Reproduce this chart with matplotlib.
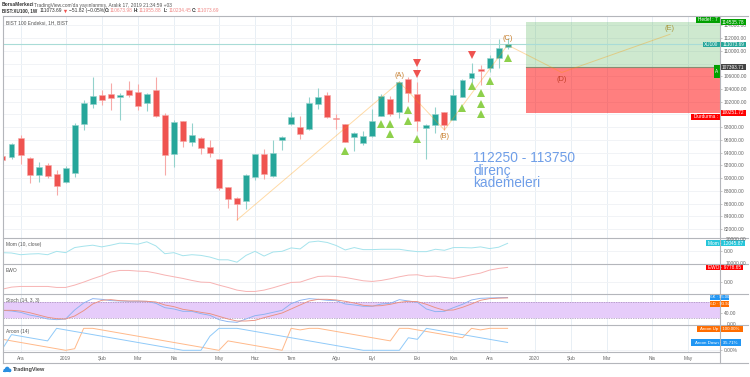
# -*- coding: utf-8 -*-
import matplotlib
matplotlib.use('Agg')
import matplotlib.pyplot as plt
from matplotlib.patches import Rectangle, Circle
import numpy as np

plt.rcParams['font.family'] = ['Liberation Sans', 'DejaVu Sans']

# haftalik mumlar
opens = [93480, 93367, 96306, 93162, 90490, 92062, 90600, 89342, 90757, 98555,
         101698, 103066, 103223, 102752, 103852, 103538, 101761, 103805, 99969, 93791,
         98932, 95630, 96306, 94939, 92958, 88556, 86795, 86403, 90222, 93744,
         90380, 95944, 98555, 98036, 97768, 101698, 103113, 99403, 98460, 96416,
         95567, 96668, 99812, 102484, 100394, 105628, 103223, 97925, 98397, 100346,
         99183, 102751, 105786, 107106, 107263, 108835, 110674]
highs = [93480, 95520, 96778, 93320, 92534, 92329, 91276, 91905, 98617, 102280,
         105848, 103852, 104906, 103333, 105267, 104795, 103333, 105848, 100284, 99136,
         99026, 98617, 96416, 95992, 93005, 88603, 86984, 90647, 93791, 94530,
         95992, 96621, 100441, 99765, 102798, 104119, 103538, 100079, 98507, 97297,
         97407, 100865, 103223, 102909, 105314, 105896, 105110, 98507, 101132, 100394,
         103962, 105534, 108143, 107782, 109354, 111822, 111956]
lows = [92850, 92958, 92219, 89280, 89437, 90018, 87299, 89280, 90222, 97517,
        101022, 101494, 100708, 99136, 102798, 100708, 100551, 99560, 90443, 91794,
        94938, 95096, 93791, 93367, 88179, 85349, 83416, 85145, 89704, 89908,
        90222, 94420, 98303, 96196, 97564, 100818, 99497, 97674, 95630, 94310,
        95159, 96510, 99812, 99765, 99497, 101918, 97407, 92958, 97045, 97564,
        99136, 102704, 104906, 104638, 106729, 107357, 110234]
closes = [92850, 95363, 93587, 90442, 91748, 90333, 88714, 91590, 98350, 101761,
          102909, 102327, 102594, 103066, 103113, 101384, 103223, 99765, 93681, 98774,
          95882, 96778, 94687, 93901, 88446, 86670, 85978, 90537, 93744, 90694,
          93948, 96464, 99560, 96983, 101808, 102704, 99608, 99246, 95630, 97092,
          96621, 98931, 102956, 100126, 105110, 103427, 98979, 98303, 100126, 98350,
          103113, 105377, 106524, 106839, 108835, 110407, 111074]

last_price = 111073.69
target_price = 114535.78
entry_price = 107393.71
stop_price = 100251.72
position_start = 58

# dalga etiketleri
wave_idx = [26, 44, 49, 56, 62, 74]
wave_price = [83415, 105108, 97563, 110925, 106602, 112607]

up_idx = [38, 42, 43, 43, 45, 45, 46, 51, 52, 53, 53, 53, 54, 56]
up_price = [94310, 98510, 98550, 96900, 100700, 99030, 96150, 101020, 104480, 103330,
            101650, 100000, 105310, 108930]
down_idx = [46, 46, 52]
down_price = [108100, 106400, 109350]

# indikatorler
mom = [-2622, -3157, -5833, -4763, -4228, -5833, -551, -2622, 5408, 7549, 9155, 6478, 9155,
       12367, 11832, 10761, 14508, 8084, -4228, -2622, -7439, -5833, -6904, -9581, -13863,
       -13863, -17610, -6904, -480, -7975, -1551, -480, 4873, 3267, 13973, 15579, 13437,
       8620, 1661, 5408, 2196, 2196, 2731, 2731, 2731, 589, -1016, -1016, 2731, 1126, 5408,
       5408, 4873, 6478, 3802, 5943, 12046]
ewo = [-4363, -3059, -2624, -2624, -2624, -2624, -3276, -3276, -1755, 200, 2374, 4329, 6720,
       7806, 7806, 7372, 7154, 6068, 4764, 3677, 2591, 1287, 200, -17, -1755, -3276, -5015,
       -5884, -5884, -5015, -3493, -1755, -17, 200, 2156, 3895, 4112, 3895, 3243, 2156, 1070,
       635, 1287, 2374, 3677, 4764, 4981, 3895, 4112, 3243, 2591, 3677, 4981, 6068, 8024,
       9110, 9778]
stoch_k = [49.2, 46.8, 42, 32.4, 26.4, 18, 15.6, 18, 50.4, 75.6, 91.2, 88.8, 84, 82.8, 81.6,
           81.6, 81.6, 74.4, 58.8, 54, 45.6, 45.6, 37.2, 31.2, 15.6, 8.4, 6, 18, 30, 34.8, 42,
           49.2, 73.2, 85.2, 91.2, 88.8, 85.2, 84, 72, 68.4, 63.6, 63.6, 72, 74.4, 87.6, 82.8,
           78, 54, 44.4, 45.6, 58.8, 70.8, 86.4, 92.4, 93.6, 94.5, 95]
stoch_d = [49.2, 49.2, 46.8, 40.8, 32.4, 24, 19.2, 18, 28.8, 48, 72, 85.2, 87.6, 84, 82.8,
           82.8, 81.6, 79.2, 68.4, 62.4, 52.8, 48, 42, 37.2, 27.6, 18, 10.8, 10.8, 13.2, 22.8,
           31.2, 39.6, 54, 68.4, 82.8, 88.8, 88.8, 86.4, 81.6, 75.6, 67.2, 64.8, 66, 70.8, 78,
           81.6, 80.4, 70.8, 58.8, 49.2, 50.4, 60, 72, 85.2, 91.2, 93, 93.92]
aroon_up = [50, 42.86, 35.71, 28.57, 21.43, 14.29, 7.14, 0, 7.14, 100, 100, 92.86, 85.71,
            78.57, 71.43, 64.29, 57.14, 50, 42.86, 35.71, 28.57, 21.43, 14.29, 7.14, 0, 42.86,
            35.71, 28.57, 21.43, 14.29, 7.14, 0, 100, 92.86, 100, 100, 92.86, 85.71, 78.57,
            71.43, 64.29, 57.14, 50, 42.86, 100, 100, 92.86, 85.71, 78.57, 71.43, 64.29, 57.14,
            100, 92.86, 100, 100, 100]
aroon_down = [7.14, 71.43, 64.29, 57.14, 50, 42.86, 100, 92.86, 85.71, 78.57, 71.43, 64.29,
              57.14, 50, 42.86, 35.71, 28.57, 21.43, 14.29, 7.14, 0, 0, 0, 64.29, 100, 100, 100,
              92.86, 85.71, 78.57, 71.43, 64.29, 57.14, 50, 42.86, 35.71, 28.57, 21.43, 14.29,
              7.14, 0, 0, 0, 0, 0, 57.14, 50, 100, 92.86, 85.71, 78.57, 71.43, 64.29, 57.14,
              50, 42.86, 35.71]

month_idx = [2, 7, 11, 15, 19, 24, 28, 32, 37, 41, 46, 50, 54, 59, 63, 67, 72, 76]
month_labels = ['Ara', '2019', 'Şub', 'Mar', 'Nis', 'May', 'Haz', 'Tem', 'Ağu', 'Eyl', 'Eki',
                'Kas', 'Ara', '2020', 'Şub', 'Mar', 'Nis', 'May']
price_ticks = list(range(82000, 116000, 2000))
hidden_ticks = [100000, 108000]  # fiyat etiketlerinin altinda kaliyor

W, H = 750, 377
LEFT, RIGHT = 2.5, 720
GRID_V = '#e8eff5'
GRID_H = '#f1f3f6'
TICK = '#666666'
FS = 3.5

fig = plt.figure(figsize=(W / 100, H / 100), dpi=100, facecolor='white')


def pane(y0, y1, ylim, yticks=()):
    ax = fig.add_axes([LEFT / W, 1 - y1 / H, (RIGHT - LEFT) / W, (y1 - y0) / H])
    ax.set_xlim(0, 79.55)
    ax.set_ylim(*ylim)
    ax.set_xticks(month_idx)
    ax.set_xticklabels([])
    ax.set_yticks(list(yticks))
    ax.yaxis.tick_right()
    ax.tick_params(axis='x', length=0)
    ax.tick_params(axis='y', length=1.5, width=0.4, color='#999999', labelsize=FS,
                   labelcolor=TICK, pad=1)
    ax.grid(axis='x', color=GRID_V, lw=0.7)
    ax.grid(axis='y', color=GRID_H, lw=0.7)
    ax.set_axisbelow(True)
    for s in ax.spines.values():
        s.set_visible(False)
    return ax


# ana grafik
ax = pane(15.5, 238.3, (80538, 115563), price_ticks)
ax.set_yticklabels(['' if p in hidden_ticks else f'{p:.2f}' for p in price_ticks])

idx = np.arange(len(closes))
o, h, l, c = map(np.array, (opens, highs, lows, closes))
rising = c >= o
for mask, body, pale in ((rising, '#26a69a', '#93d2cc'), (~rising, '#ef5350', '#f7a9a7')):
    ax.vlines(idx[mask], l[mask], h[mask], color=pale, lw=0.8, zorder=2)
    ax.bar(idx[mask], np.abs(c - o)[mask], bottom=np.minimum(o, c)[mask], width=0.66,
           color=body, edgecolor=pale, linewidth=0.4, zorder=3)

ax.axhline(last_price, color='#a9dcd7', lw=0.8, zorder=2)
ax.add_patch(Rectangle((position_start, entry_price), 79.55 - position_start, target_price - entry_price,
                       facecolor='#4caf50', alpha=0.27, edgecolor='none', zorder=1))
ax.add_patch(Rectangle((position_start, stop_price), 79.55 - position_start, entry_price - stop_price,
                       facecolor='#ff0000', alpha=0.5, edgecolor='none', zorder=1))
ax.plot([position_start, 79.55], [entry_price, entry_price], color='#8a8a70', lw=0.8, zorder=2)

ax.plot(wave_idx, wave_price, color='#ff9800', alpha=0.35, lw=0.7, zorder=4)
ax.plot(up_idx, up_price, '^', color='#8ed04c', ms=5.2, mew=0, zorder=5)
ax.plot(down_idx, down_price, 'v', color='#ef5350', ms=5.2, mew=0, zorder=5)

for (i, p), name, col, dy in zip(zip(wave_idx[1:], wave_price[1:]), ['(A)', '(B)', '(C)', '(D)', '(E)'],
                                 ['#c77f2e', '#c77f2e', '#c77f2e', '#c4402a', '#a8963c'],
                                 [1000, -1100, 1000, -1050, 850]):
    ax.text(i, p + dy, name, color=col, fontsize=5.4, ha='center', va='center', zorder=6)

ax.text(52.2, 94200, '112250 - 113750\ndirenç\nkademeleri', color='#6f9ee8', fontsize=9.9,
        ha='left', va='top', linespacing=0.84, zorder=6)

# indikator panelleri
ax_mom = pane(238.3, 263.7, (-20000, 20000), [0])
ax_mom.set_yticklabels(['0.00'])
ax_mom.plot(idx, mom, color='#a5e3ec', lw=0.7)

ax_ewo = pane(263.7, 294.3, (-7750, 12200), [0])
ax_ewo.set_yticklabels(['0.00'])
ax_ewo.plot(idx, ewo, color='#f7b3b3', lw=0.7)

ax_st = pane(294.3, 325, (-3.6, 106.8), [40])
ax_st.set_yticklabels(['40.00'])
ax_st.axhspan(20, 80, facecolor='#e6ccfa', edgecolor='none', zorder=1)
ax_st.axhline(80, color='#a58db8', lw=0.5, ls=(0, (2, 1.5)), zorder=2)
ax_st.axhline(20, color='#a58db8', lw=0.5, ls=(0, (2, 1.5)), zorder=2)
ax_st.plot(idx, stoch_k, color='#8ab2f0', lw=0.65, zorder=3)
ax_st.plot(idx, stoch_d, color='#ea9080', lw=0.65, zorder=3)

ax_ar = pane(325, 352.3, (-9.1, 115.2), [0])
ax_ar.set_yticklabels(['0.00%'])
ax_ar.plot(idx, aroon_up, color='#ffb98a', lw=0.7)
ax_ar.plot(idx, aroon_down, color='#90caf9', lw=0.7)
ax_ar.set_xticklabels(month_labels)
ax_ar.tick_params(axis='x', labelsize=FS, labelcolor=TICK, pad=3)

# piksel koordinatli ust katman: cerceve, etiketler, baslik
top = fig.add_axes([0, 0, 1, 1], zorder=10)
top.set_xlim(0, W)
top.set_ylim(H, 0)
top.axis('off')
top.patch.set_alpha(0)

for y in (15.5, 238.3, 263.7, 294.3, 325, 352.3, 363.3):
    x1 = 720 if y == 352.3 else 748
    top.plot([LEFT, x1], [y, y], color='#b4b6bb', lw=0.8)
top.plot([LEFT, LEFT], [15.5, 363.3], color='#b4b6bb', lw=0.8)
top.plot([RIGHT, RIGHT], [15.5, 363.3], color='#b4b6bb', lw=0.8)


def tag(x0, x1, y0, y1, text, color, fs=3.4):
    top.add_patch(Rectangle((x0, y0), x1 - x0, y1 - y0, facecolor=color, edgecolor='none'))
    top.text((x0 + x1) / 2, (y0 + y1) / 2, text, color='white', fontsize=fs, ha='center', va='center')


tag(696, 720, 16, 22.7, 'Hedef : 7', '#00a000')
tag(720.5, 746, 19.3, 25, f'{target_price:.2f}', '#00a000')
tag(702.7, 720, 41.7, 47.3, 'XU100', '#26a69a')
tag(720.5, 746, 41.7, 47.3, f'{last_price:.2f}', '#26a69a')
tag(714, 720, 65, 77.7, 'A', '#00a000')
tag(720.5, 746, 64.3, 70, f'{entry_price:.2f}', '#444444')
tag(720.5, 746, 110, 116, f'{stop_price:.2f}', '#ff0000')
tag(691, 720, 114, 120, 'Durdurma :', '#ff0000')
tag(706, 745, 240, 246.3, 'Mom · 12045.87', '#26c6da')
tag(706, 742.7, 264.3, 270, 'EWO · 9778.65', '#ff0000')
tag(710, 728.7, 294.3, 300.3, '%K · 95.00', '#2196f3', fs=3.0)
tag(710, 728.7, 301, 307, '%D · 93.92', '#ff6d00', fs=3.0)
tag(696.7, 742.7, 326, 331.7, 'Aroon Up · 100.00%', '#ff6d00', fs=3.2)
tag(691, 741, 339.3, 345.7, 'Aroon Down · 35.71%', '#2196f3', fs=3.2)

top.text(726, 239.5, '20000.00', color=TICK, fontsize=FS, va='center')
top.text(726, 263.2, '10000.00', color=TICK, fontsize=FS, va='center')
top.text(727, 324.4, '0.00', color=TICK, fontsize=FS, va='center')

top.text(6, 22.5, 'BIST 100 Endeksi, 1H, BIST', color='#555555', fontsize=FS, va='center')
top.text(6, 244.5, 'Mom (10, close)', color='#555555', fontsize=FS, va='center')
top.text(6, 270.5, 'EWO', color='#555555', fontsize=FS, va='center')
top.text(6, 300.5, 'Stoch (14, 3, 3)', color='#555555', fontsize=FS, va='center')
top.text(6, 331.5, 'Aroon (14)', color='#555555', fontsize=FS, va='center')

# baslik satirlari
top.text(2, 5, 'BorsaMerkezi', color='#333333', fontsize=3.5, va='center', fontweight='bold')
top.text(33.5, 5, "TradingView.com'da yayınlanmış, Aralık 17, 2019 21:34:59 +03", color='#555555',
         fontsize=FS, va='center')
top.text(2, 10.7, 'BIST:XU100, 1W', color='#333333', fontsize=3.3, va='center', fontweight='bold')
top.text(40, 10.7, '111073.69', color='#333333', fontsize=FS, va='center')
top.plot([65], [10.7], 'v', color='#ef5350', ms=2.4, mew=0)
top.text(69, 10.7, '−51.82 (−0.05%)', color='#333333', fontsize=FS, va='center')
header_x = [104.5, 133.5, 163.5, 192]
for hx, key, val in zip(header_x, ['O:', 'H:', 'L:', 'C:'],
                        ['110673.98', '111955.88', '110234.45', '111073.69']):
    top.text(hx, 10.7, key, color='#333333', fontsize=3.3, va='center', fontweight='bold')
    top.text(hx + 5, 10.7, val, color='#f08a88', fontsize=FS, va='center')

# TradingView logosu
for cx, cy, r in ((5, 370.5, 1.7), (7.2, 369, 2.3), (9.6, 370.4, 1.8)):
    top.add_patch(Circle((cx, cy), r, facecolor='#2a8fe0', edgecolor='none'))
top.add_patch(Rectangle((3.3, 370.5), 8, 1.7, facecolor='#2a8fe0', edgecolor='none'))
top.text(13, 370, 'TradingView', color='#444444', fontsize=4.0, va='center', fontweight='bold')

fig.savefig('out.png', dpi=100)
